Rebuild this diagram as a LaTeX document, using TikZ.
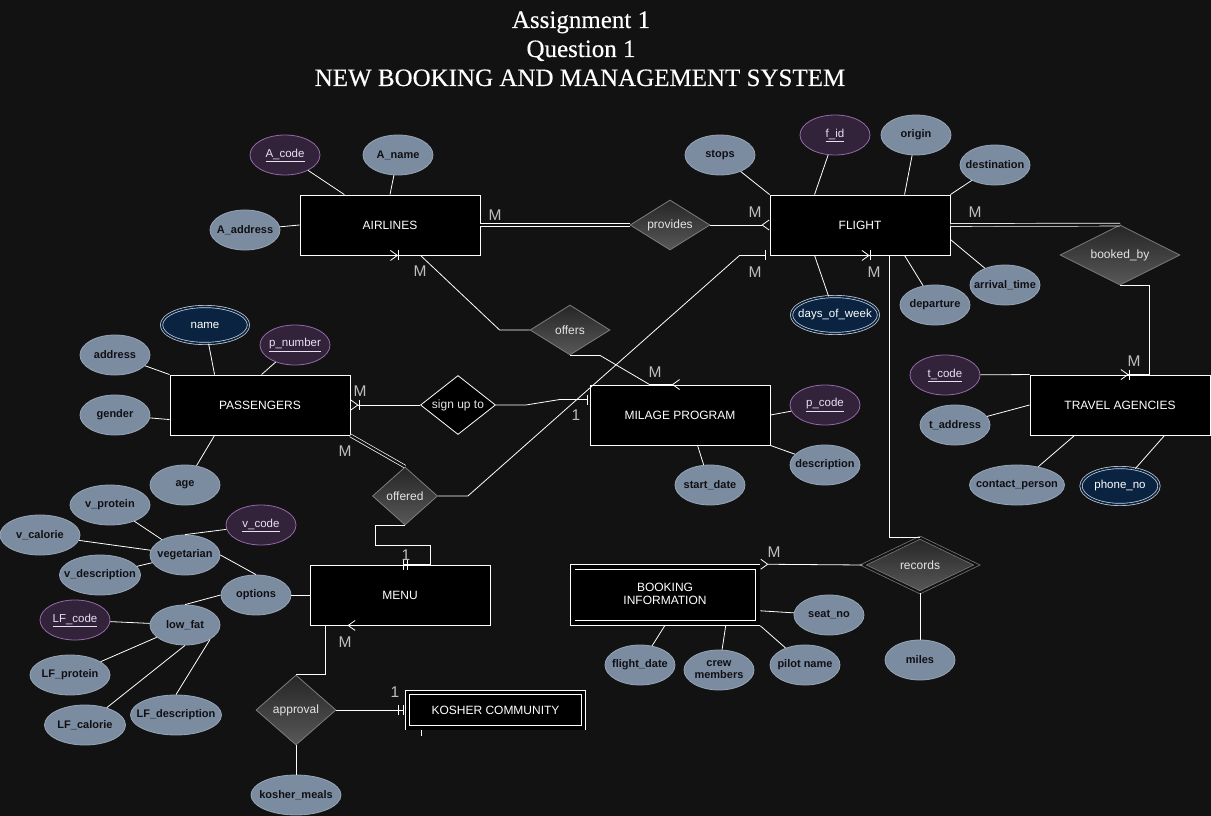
\documentclass[tikz,border=0pt]{standalone}
\usepackage{fontspec}
\setmainfont{Liberation Serif}
\setsansfont{Liberation Sans}
\newfontfamily\mytitlefont[FakeBold=0.35]{Liberation Serif}
\usetikzlibrary{shapes.geometric,arrows.meta,calc}
\definecolor{bg}{RGB}{18,18,18}
\definecolor{attrf}{RGB}{124,140,160}
\definecolor{attrb}{RGB}{150,165,182}
\definecolor{attrt}{RGB}{15,15,20}
\definecolor{keyf}{RGB}{50,35,58}
\definecolor{keyb}{RGB}{150,105,170}
\definecolor{keyt}{RGB}{232,224,242}
\definecolor{mvf}{RGB}{10,35,64}
\definecolor{mvb}{RGB}{205,212,222}
\definecolor{relt}{RGB}{38,38,38}
\definecolor{relb}{RGB}{88,88,88}
\definecolor{relline}{RGB}{125,125,125}
\definecolor{reltext}{RGB}{228,228,228}
\definecolor{lblgray}{RGB}{190,190,190}
\newcommand{\zw}[1]{\makebox[0pt]{#1}}
\begin{document}
\begin{tikzpicture}[x=1pt,y=-1pt,
 attr/.style={ellipse, draw=attrb, fill=attrf, line width=0.8pt, minimum width=70pt, minimum height=40pt, inner sep=0pt, text=attrt, font=\sffamily\bfseries\fontsize{11}{13}\selectfont},
 keyattr/.style={attr, draw=keyb, fill=keyf, text=keyt, font=\sffamily\fontsize{11.5}{13}\selectfont},
 mvattr/.style={attr, draw=mvb, fill=mvf, double=mvf, double distance=1.6pt, line width=0.7pt, text=white, font=\sffamily\fontsize{11.5}{13}\selectfont, minimum width=87pt, minimum height=37pt},
 entity/.style={rectangle, draw=white, fill=black, line width=0.9pt, minimum width=180pt, minimum height=60pt, inner sep=0pt, text=white, font=\sffamily\fontsize{12}{15}\selectfont},
 weak/.style={entity, double=black, double distance=4pt, line width=0.8pt, outer sep=2.8pt},
 rel/.style={diamond, aspect=1.6, draw=relline, line width=0.8pt, top color=relt, bottom color=relb, inner sep=0pt, text=reltext, font=\sffamily\fontsize{12}{14}\selectfont},
 relblack/.style={diamond, draw=white, fill=black, line width=0.8pt, inner sep=0pt, text=reltext, font=\sffamily\fontsize{12}{14}\selectfont},
 lbl/.style={inner sep=0pt, text=lblgray, font=\sffamily\fontsize{15.5}{17}\selectfont},
 ttl/.style={inner sep=0pt, anchor=base, text=white, font=\mytitlefont\fontsize{25}{29}\selectfont},
 conn/.style={draw=white, line width=0.8pt},
 dbl/.style={draw=white, double=bg, double distance=2.2pt, line width=0.7pt},
 crowmany/.style={-{Straight Barb[reversed,length=7pt,width=10pt]}},
 crowonemany/.style={-{Bar[width=10pt] Straight Barb[reversed,length=7pt,width=10pt]}},
 crowone/.style={-{Bar[width=10pt]}},
 crowmone/.style={-{Bar[width=10pt,sep=3.5pt] Bar[width=10pt,sep=1.5pt]}}
]
\useasboundingbox (0,0) rectangle (1211,816);
\fill[bg] (0,0) rectangle (1211,816);

% title
\node[ttl] (t1) at (581,28) {Assignment 1};
\node[ttl] (t2) at (581,57) {Question 1};
\node[ttl] (t3) at (580,86) {NEW BOOKING AND MANAGEMENT SYSTEM};

% entities
\node[entity] (airlines) at (390,225) {AIRLINES};
\node[entity] (flight) at (860,225) {FLIGHT};
\node[entity] (pass) at (260,405) {PASSENGERS};
\node[entity] (mil) at (680,415) {MILAGE PROGRAM};
\node[entity] (ta) at (1120,405) {TRAVEL AGENCIES};
\node[entity] (menu) at (400,595) {MENU};
\node[weak, minimum width=185pt, minimum height=56pt] (book) at (665,595) {\zw{\begin{tabular}{@{}c@{}}BOOKING\\[-2pt]INFORMATION\end{tabular}}};
\node[weak, minimum width=176pt, minimum height=35.5pt, double distance=3.5pt, outer sep=2.6pt] (kosher) at (495.5,710) {KOSHER COMMUNITY};

% relationships
\node[rel, minimum width=80pt, minimum height=50pt] (provides) at (670,225) {\zw{provides}};
\node[rel, aspect=2, minimum width=120pt, minimum height=60pt] (booked) at (1120,255) {\zw{booked\_by}};
\node[rel, minimum width=80pt, minimum height=50pt] (offers) at (570,330) {\zw{offers}};
\node[relblack, aspect=1.27, minimum width=75pt, minimum height=59pt] (signup) at (458,405) {\zw{sign up to}};
\node[rel, aspect=1.1, minimum width=65pt, minimum height=58pt] (offered) at (405,496) {\zw{offered}};
\node[rel, aspect=1.14, minimum width=80pt, minimum height=70pt] (approval) at (296,710) {\zw{approval}};
\node[rel, aspect=2, double=bg, double distance=2pt, line width=0.7pt, minimum width=114pt, minimum height=55pt] (records) at (920,565) {\zw{records}};

% airline attributes
\node[keyattr] (acode) at (285,155) {\zw{\underline{A\_code}}};
\node[attr] (aname) at (398,155) {\zw{A\_name}};
\node[attr] (aaddr) at (245,230) {\zw{A\_address}};
% flight attributes
\node[attr] (stops) at (720,155) {\zw{stops}};
\node[keyattr] (fid) at (835,135) {\zw{\underline{f\_id}}};
\node[attr] (origin) at (916,135) {\zw{origin}};
\node[attr] (dest) at (995,165) {\zw{destination}};
\node[attr] (arrt) at (1005,285) {\zw{arrival\_time}};
\node[attr] (dep) at (935,305) {\zw{departure}};
\node[mvattr] (dow) at (835,315) {\zw{days\_of\_week}};
% passenger attributes
\node[mvattr] (pname) at (205,325) {\zw{name}};
\node[keyattr] (pnum) at (295,345) {\zw{\underline{p\_number}}};
\node[attr] (paddr) at (115,355) {\zw{address}};
\node[attr] (gender) at (115,415) {\zw{gender}};
\node[attr] (age) at (185,485) {\zw{age}};
% milage attributes
\node[keyattr] (pcode) at (825,405) {\zw{\underline{p\_code}}};
\node[attr] (descr) at (825,465) {\zw{description}};
\node[attr] (sdate) at (710,485) {\zw{start\_date}};
% travel agencies attributes
\node[keyattr] (tcode) at (945,375) {\zw{\underline{t\_code}}};
\node[attr] (taddr) at (955,425) {\zw{t\_address}};
\node[attr, minimum width=95pt] (cperson) at (1017,485) {\zw{contact\_person}};
\node[mvattr, minimum width=78pt] (phone) at (1120,486) {\zw{phone\_no}};
% booking attributes
\node[attr] (seat) at (829,615) {\zw{seat\_no}};
\node[attr] (fdate) at (640,665) {\zw{flight\_date}};
\node[attr] (crew) at (719,670) {\zw{\begin{tabular}{@{}c@{}}crew\\[-1pt]members\end{tabular}}};
\node[attr] (pilot) at (805,665) {\zw{pilot name}};
\node[attr] (miles) at (920,660) {\zw{miles}};
% menu attributes
\node[attr] (opt) at (256,595) {\zw{options}};
\node[attr] (veg) at (185,555) {\zw{vegetarian}};
\node[attr, minimum width=80pt] (vprot) at (110,505) {\zw{v\_protein}};
\node[attr, minimum width=80pt] (vcal) at (40,535) {\zw{v\_calorie}};
\node[attr, minimum width=81pt] (vdesc) at (100,575) {\zw{v\_description}};
\node[keyattr] (vcode) at (261,525) {\zw{\underline{v\_code}}};
\node[attr] (lowfat) at (185,625) {\zw{low\_fat}};
\node[keyattr] (lfcode) at (75,620) {\zw{\underline{LF\_code}}};
\node[attr, minimum width=80pt] (lfprot) at (70,675) {\zw{LF\_protein}};
\node[attr, minimum width=81pt] (lfcal) at (85,725) {\zw{LF\_calorie}};
\node[attr, minimum width=91pt] (lfdesc) at (176,715) {\zw{LF\_description}};
\node[attr, minimum width=90pt] (kmeals) at (296,795) {\zw{kosher\_meals}};

% attribute lines
\draw[conn] (acode) -- (airlines);
\draw[conn] (aname) -- (airlines.north);
\draw[conn] (aaddr) -- (airlines.west);
\draw[conn] (stops) -- (flight.north west);
\draw[conn] (fid) -- ([xshift=45pt]flight.north west);
\draw[conn] (origin) -- ([xshift=135pt]flight.north west);
\draw[conn] (dest) -- (flight.north east);
\draw[conn] (arrt) -- ([yshift=-45pt]flight.north east);
\draw[conn] (dep) -- ([xshift=135pt]flight.south west);
\draw[conn] (dow) -- ([xshift=45pt]flight.south west);
\draw[conn] (pname) -- ([xshift=45pt]pass.north west);
\draw[conn] (pnum) -- ([xshift=92pt]pass.north west);
\draw[conn] (paddr) -- (pass.north west);
\draw[conn] (gender) -- ([yshift=-45pt]pass.north west);
\draw[conn] (age) -- ([xshift=45pt]pass.south west);
\draw[conn] (pcode) -- (mil.east);
\draw[conn] (descr) -- (mil.south east);
\draw[conn] (sdate) -- ([xshift=108pt]mil.south west);
\draw[conn] (tcode) -- (ta.north west);
\draw[conn] (taddr) -- (ta.west);
\draw[conn] (cperson) -- ([xshift=45pt]ta.south west);
\draw[conn] (phone) -- ([xshift=135pt]ta.south west);
\draw[conn] (seat) -- ([yshift=15pt]book.south east);
\draw[conn] (fdate) -- ([xshift=95pt]book.south west);
\draw[conn] (crew) -- ([xshift=156pt]book.south west);
\draw[conn] (pilot) -- (book.south east);
\draw[conn] (miles) -- (records.south);
\draw[conn] (opt) -- (menu.west);
\draw[conn] (veg.east) -- (opt.north);
\draw[conn] (vprot) -- (veg);
\draw[conn] (vcal) -- (veg);
\draw[conn] (vdesc) -- (veg);
\draw[conn] (vcode) -- (veg.north);
\draw[conn] (lowfat.north) -- (opt.west);
\draw[conn] (lfcode) -- (lowfat);
\draw[conn] (lfprot) -- (lowfat);
\draw[conn] (lfcal) -- (lowfat.south);
\draw[conn] (lfdesc.north) -- (lowfat.south east);
\draw[conn] (approval.south) -- (kmeals.north);

% relationship connectors
\draw[dbl] (airlines.east) -- (provides.west);
\draw[conn, crowmany] (provides.east) -- (flight.west);
\draw[dbl] (flight.east) -- (booked.north);
\draw[conn, crowonemany] (booked.south) -| ($(ta.north west)+(120,0)$) -- ($(ta.north west)+(91,0)$);
\draw[conn, crowonemany] (offers.west) -- ++(-30,0) -- ($(airlines.south west)+(121,0)$) -- (airlines.south);
\draw[conn, crowmany] (offers.south) -- ++(30,0) -- ($(mil.north west)+(60,0)$) -- (mil.north);
\draw[conn, crowonemany] (signup.west) -- (pass.east);
\draw[conn, crowone] (signup.east) -- ++(30,0) -- ($(mil.north west)+(-30,15)$) -- ($(mil.north west)+(-2,15)$);
\draw[dbl] (pass.south east) -- (offered.north);
\draw[conn, crowone] (offered.east) -- ++(30,0) -- ($(flight.south west)+(-30,0)$) -- ($(flight.south west)+(-4,0)$);
\draw[conn, crowmone] (offered.south) -- ++(-30,0) -- ++(0,20) -| ($(menu.north west)+(121,0)$) -- ($(menu.north west)+(92,0)$);
\draw[conn, crowmany] (approval.north) -| ($(menu.south west)+(16,0)$) -- ($(menu.south west)+(46,0)$);
\draw[conn, crowmone] (approval.east) -- (kosher.west);
\draw[conn, crowonemany] (records.north) -| ($(flight.south west)+(120,0)$) -- ($(flight.south west)+(92,0)$);
\draw[conn, crowmany] (records.west) -- (book.north east);
\draw[conn] ([xshift=16pt]kosher.south west) -- ++(0,6);

% cardinality labels
\node[lbl] (mA1) at (495,215) {M};
\node[lbl] (mF1) at (755,212) {M};
\node[lbl] (mF2) at (975,212) {M};
\node[lbl] (mA2) at (420,271) {M};
\node[lbl] (mF3) at (755,272) {M};
\node[lbl] (mF4) at (874,272) {M};
\node[lbl] (mP1) at (360,391) {M};
\node[lbl] (mMil) at (655,372) {M};
\node[lbl] (one1) at (576,415) {1};
\node[lbl] (mP2) at (345,451) {M};
\node[lbl] (mTA) at (1134,361) {M};
\node[lbl] (one2) at (406,555) {1};
\node[lbl] (mMenu) at (345,642) {M};
\node[lbl] (one3) at (395,692) {1};
\node[lbl] (mBook) at (774,552) {M};
\end{tikzpicture}
\end{document}
